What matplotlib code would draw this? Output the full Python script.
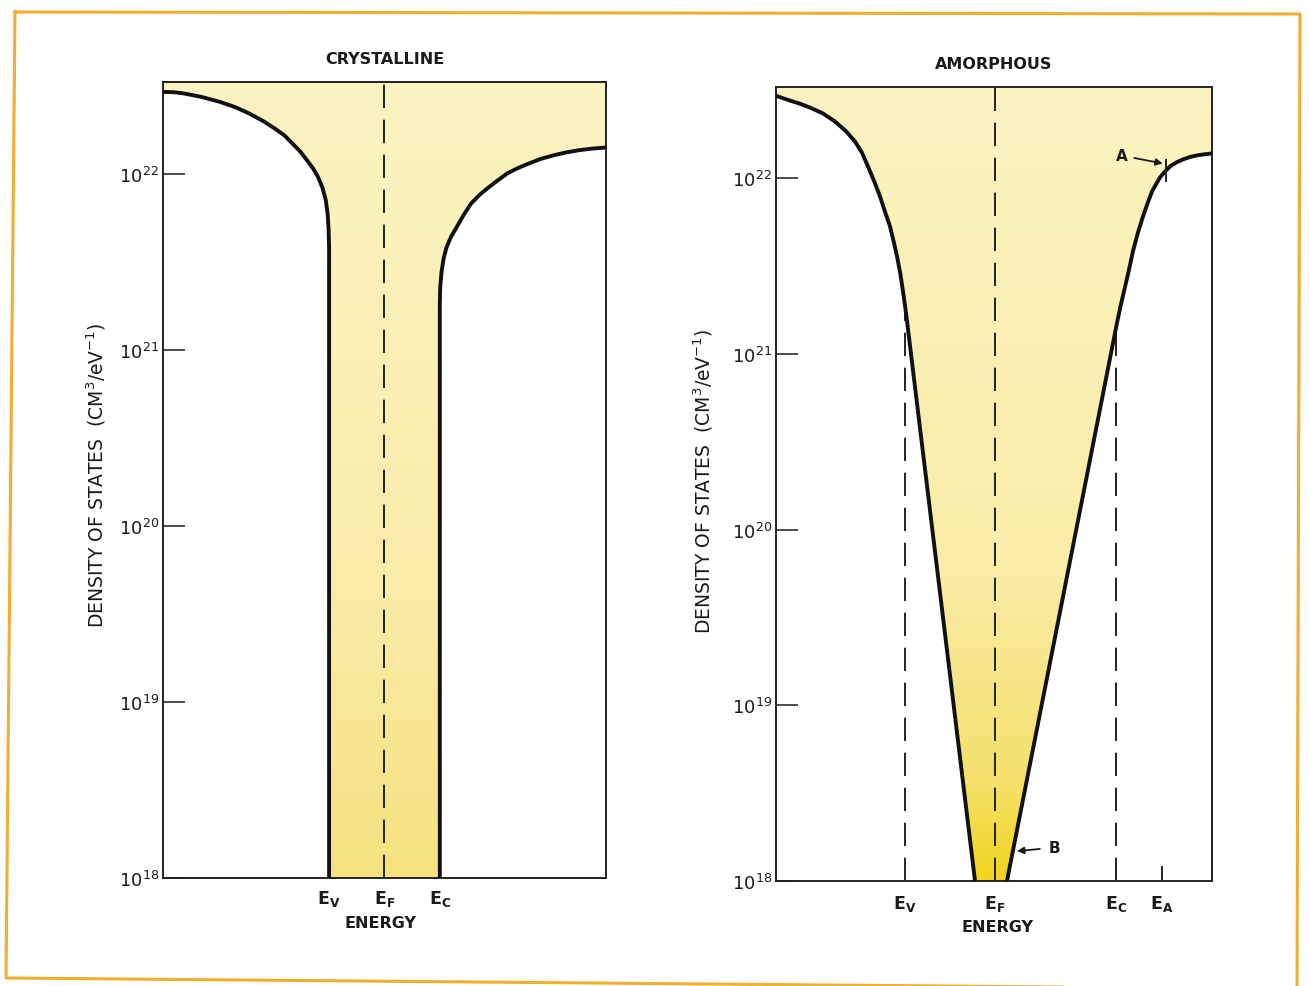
import numpy as np
import matplotlib
matplotlib.use("Agg")
import matplotlib.pyplot as plt
from matplotlib.colors import LinearSegmentedColormap
from matplotlib.lines import Line2D

plt.rcParams['font.family'] = ['DejaVu Sans']
plt.rcParams['mathtext.default'] = 'regular'

# energy axis in arbitrary units, 0..4 across each panel; density as log10(N)
top_logn = 22.52
ytick_exp = [18, 19, 20, 21, 22]

# crystalline panel
cry_ev, cry_ef, cry_ec = 1.5, 2.0, 2.5
cry_val_x = [0.0, 0.1, 0.19, 0.35, 0.515, 0.65, 0.78, 0.9, 1.01, 1.1, 1.17,
             1.24, 1.30, 1.355, 1.40, 1.44, 1.47, 1.487, 1.496, 1.5, 1.5]
cry_val_logn = [22.464, 22.462, 22.455, 22.435, 22.407, 22.378, 22.341, 22.30,
                22.256, 22.215, 22.170, 22.125, 22.076, 22.03, 21.981, 21.92,
                21.85, 21.77, 21.68, 21.58, 18.0]
cry_con_x = [2.5, 2.5, 2.503, 2.515, 2.535, 2.56, 2.60, 2.653, 2.71, 2.782,
             2.86, 2.945, 3.02, 3.107, 3.2, 3.302, 3.41, 3.529, 3.64, 3.757,
             3.88, 4.0]
cry_con_logn = [18.0, 21.25, 21.35, 21.44, 21.52, 21.58, 21.64, 21.697, 21.76,
                21.83, 21.88, 21.924, 21.96, 22.0, 22.03, 22.057, 22.083,
                22.104, 22.12, 22.133, 22.142, 22.148]

# amorphous panel
amo_ev, amo_ef, amo_ec, amo_ea = 1.183, 2.01, 3.119, 3.541
amo_ev_top, amo_ec_top = 21.25, 21.15
amo_val_x = [0.0, 0.128, 0.22, 0.312, 0.43, 0.541, 0.64, 0.725, 0.79, 0.844,
             0.90, 0.954, 1.0, 1.046, 1.08, 1.110, 1.14, 1.165, 1.185, 1.202,
             1.826]
amo_val_logn = [22.47, 22.443, 22.425, 22.403, 22.37, 22.324, 22.27, 22.21,
                22.145, 22.068, 21.985, 21.898, 21.81, 21.727, 21.64, 21.557,
                21.46, 21.358, 21.27, 21.188, 18.0]
amo_con_x = [2.119, 3.128, 3.16, 3.193, 3.235, 3.275, 3.32, 3.367, 3.41, 3.45,
             3.49, 3.523, 3.57, 3.615, 3.67, 3.734, 3.8, 3.862, 3.93, 4.0]
amo_con_logn = [18.0, 21.176, 21.27, 21.358, 21.47, 21.585, 21.69, 21.784,
                21.86, 21.926, 21.97, 22.006, 22.04, 22.068, 22.09, 22.108,
                22.122, 22.131, 22.137, 22.142]
point_a = (3.578, 22.045)
point_b = (2.211, 18.17)

ylab = 'DENSITY OF STATES  (CM$^{3}$/eV$^{-1}$)'
txt = dict(fontsize=11.5, fontweight='bold', color='#1a1a1a')
ytxt = dict(fontsize=13.5, fontweight='normal', color='#1a1a1a')

cry_cmap = LinearSegmentedColormap.from_list(
    'cry', [(0, '#f5e27e'), (0.35, '#f9eca8'), (1, '#fcf3c2')])
amo_cmap = LinearSegmentedColormap.from_list(
    'amo', [(0, '#f1d41c'), (0.12, '#f5e06a'), (0.4, '#f9eda8'), (1, '#fcf3c2')])


def shade(ax, x, logn, cmap):
    # gradient fill clipped to the region above the curves
    poly = ax.fill_between(x, 10 ** np.array(logn), 10 ** top_logn,
                           facecolor='none', edgecolor='none')
    grad = np.linspace(0, 1, 256).reshape(-1, 1)
    im = ax.imshow(grad, cmap=cmap, origin='lower', extent=[0, 1, 0, 1],
                   transform=ax.transAxes, aspect='auto', zorder=0.5,
                   interpolation='bilinear')
    im.set_clip_path(poly.get_paths()[0], transform=ax.transData)


def setup(ax, title, xticks, xlabels, xpad):
    ax.set_yscale('log')
    ax.set_xlim(0, 4)
    ax.set_ylim(10 ** 18, 10 ** top_logn)
    ax.set_autoscale_on(False)
    ax.set_yticks([10.0 ** e for e in ytick_exp])
    ax.set_yticklabels([r'$10^{%d}$' % e for e in ytick_exp])
    ax.yaxis.set_minor_locator(matplotlib.ticker.NullLocator())
    ax.tick_params(axis='y', direction='in', length=16, width=1.1,
                   pad=3, labelsize=13, colors='#1a1a1a')
    ax.set_xticks(xticks)
    ax.set_xticklabels(xlabels)
    ax.tick_params(axis='x', length=0, pad=xpad, labelsize=12.5, colors='#1a1a1a')
    for lab in ax.get_xticklabels():
        lab.set_fontweight('bold')
    for s in ax.spines.values():
        s.set_linewidth(1.4)
        s.set_color('#222222')
    ax.set_title(title, pad=14, **txt)
    ax.set_xlabel('ENERGY', **txt)
    ax.set_ylabel(ylab, **ytxt)


def curve(ax, x, logn):
    ax.plot(x, 10 ** np.array(logn), color='#111111', lw=2.8,
            solid_joinstyle='round', solid_capstyle='round', zorder=3)


def dashed(ax, x, lo, hi):
    ax.plot([x, x], [10 ** lo, 10 ** hi], color='#222222', lw=1.4,
            dashes=(12, 6), zorder=2)


fig = plt.figure(figsize=(13.09, 9.87), dpi=100)
fig.patch.set_facecolor('white')

# ---- crystalline ----
ax1 = fig.add_axes([0.1245, 0.1094, 0.3384, 0.8065])
setup(ax1, 'CRYSTALLINE', [cry_ev, cry_ef, cry_ec],
      ['E$_V$', 'E$_F$', 'E$_C$'], 7)
shade(ax1, cry_val_x + cry_con_x, cry_val_logn + cry_con_logn, cry_cmap)
curve(ax1, cry_val_x, cry_val_logn)
curve(ax1, cry_con_x, cry_con_logn)
dashed(ax1, cry_ef, 18, top_logn)
ax1.yaxis.set_label_coords(-0.124, 0.5075)
ax1.xaxis.set_label_coords(0.492, -0.046)

# ---- amorphous ----
ax2 = fig.add_axes([0.5928, 0.1064, 0.3331, 0.8044])
setup(ax2, 'AMORPHOUS', [amo_ev, amo_ef, amo_ec, amo_ea],
      ['E$_V$', 'E$_F$', 'E$_C$', 'E$_A$'], 9)
shade(ax2, amo_val_x + amo_con_x, amo_val_logn + amo_con_logn, amo_cmap)
curve(ax2, amo_val_x, amo_val_logn)
curve(ax2, amo_con_x, amo_con_logn)
dashed(ax2, amo_ef, 18, top_logn)
dashed(ax2, amo_ev, 18, amo_ev_top)
dashed(ax2, amo_ec, 18, amo_ec_top)
ax2.plot([amo_ea, amo_ea], [10 ** 18, 10 ** 18.08], color='#222222', lw=1.4)
ax2.plot([point_a[0], point_a[0]], [10 ** (point_a[1] - 0.06), 10 ** (point_a[1] + 0.06)],
         color='#222222', lw=1.4, zorder=4)
ax2.annotate('A', xy=(point_a[0] - 0.03, 10 ** (point_a[1] + 0.04)),
             xytext=(3.17, 10 ** 22.13), ha='center', va='center',
             arrowprops=dict(arrowstyle='-|>', color='#1a1a1a', lw=1.3,
                             mutation_scale=10, shrinkA=3, shrinkB=0),
             fontsize=11, fontweight='bold', color='#1a1a1a')
ax2.annotate('B', xy=(point_b[0], 10 ** point_b[1]),
             xytext=(2.55, 10 ** 18.19), ha='center', va='center',
             arrowprops=dict(arrowstyle='-|>', color='#1a1a1a', lw=1.3,
                             mutation_scale=10, shrinkA=4, shrinkB=0),
             fontsize=11, fontweight='bold', color='#1a1a1a')
ax2.yaxis.set_label_coords(-0.14, 0.505)
ax2.xaxis.set_label_coords(0.507, -0.048)

# scanned page border
W, H = 1309.0, 987.0
border_x = [15, 1300, 1297, 6, 15]
border_y = [13, 15, 990, 979, 13]
fig.add_artist(Line2D([v / W for v in border_x], [1 - v / H for v in border_y],
                      transform=fig.transFigure, color='#f2ae32', lw=2.2))

fig.savefig('out.png', dpi=100, facecolor='white')
